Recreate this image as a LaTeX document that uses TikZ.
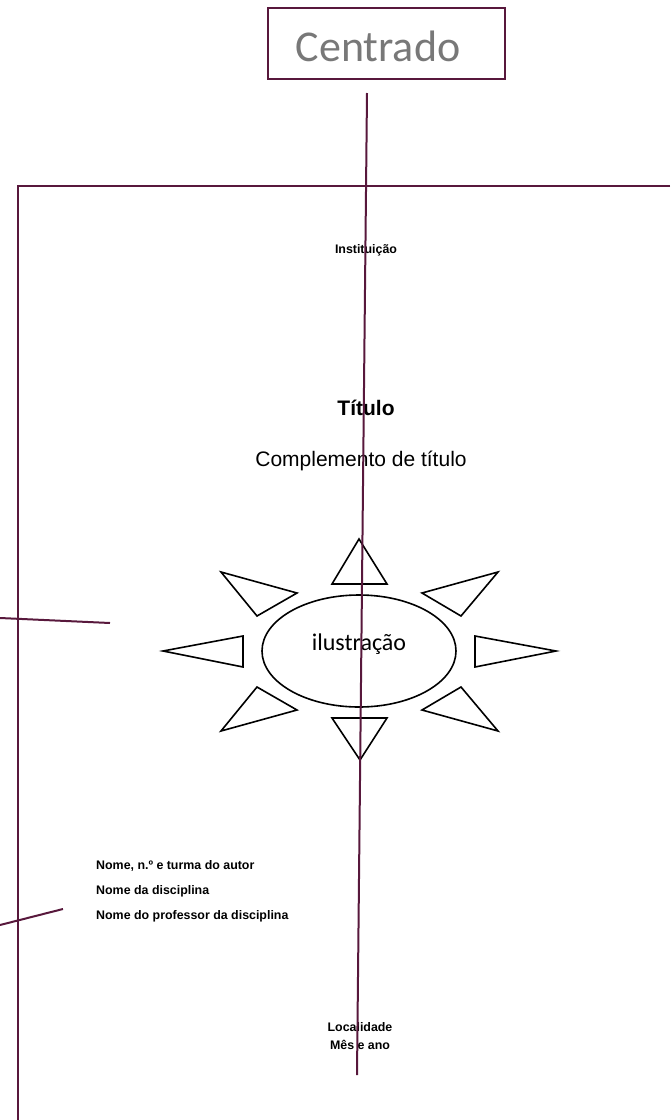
\documentclass[tikz,border=0pt]{standalone}
\usepackage{fontspec}
\setmainfont{Liberation Sans}
\newfontfamily\calibri{Carlito}
\usepackage{tikz}
\usetikzlibrary{shapes.geometric,positioning}
\definecolor{vinho}{RGB}{88,24,60}
\definecolor{cinza}{RGB}{120,120,120}

\begin{document}
\begin{tikzpicture}[x=1pt,y=-1pt,
  guia/.style={draw=vinho,line width=2pt},
  pagina/.style={draw=vinho,line width=1.6pt},
  raio/.style={draw=black,line width=1.6pt,line join=miter},
  capa/.style={font=\fontsize{12.4}{15}\selectfont\bfseries,inner sep=0pt},
  every node/.style={inner sep=0pt}]
  \useasboundingbox (0,0) rectangle (670,1120);

  % caixa do titulo
  \node[draw=vinho,line width=2pt,minimum width=237pt,minimum height=71pt] (centrado) at (386.5,43.5) {};
  \node[text=cinza,font=\calibri\fontsize{44}{48}\selectfont] (centxt) at (378,46) {Centrado};

  % folha
  \draw[pagina] (670,186) -- (18,186) -- (18,1120);

  % textos da capa
  \node[capa] (inst) at (366,250) {Instituição};
  \node[font=\fontsize{21}{25}\selectfont\bfseries] (titulo) at (366,408) {Título};
  \node[font=\fontsize{21}{25}\selectfont] (compl) at (361,461) {Complemento de título};

  % ilustracao
  \node[ellipse,draw,line width=1.6pt,minimum width=194pt,minimum height=112pt] (ilus) at (359,651) {};
  \node[font=\calibri\fontsize{24}{28}\selectfont] (ilustxt) at (359,644) {ilustração};
  \draw[raio] (359,539) -- (332,584) -- (387,584) -- cycle;
  \draw[raio] (360,760) -- (332,718) -- (387,718) -- cycle;
  \draw[raio] (163,651) -- (243,636) -- (243,667) -- cycle;
  \draw[raio] (556,651) -- (475,636) -- (475,667) -- cycle;
  \draw[raio] (221,572) -- (297,593) -- (257,616) -- cycle;
  \draw[raio] (498,572) -- (422,593) -- (461,616) -- cycle;
  \draw[raio] (221,731) -- (297,710) -- (257,687) -- cycle;
  \draw[raio] (498,731) -- (422,710) -- (461,687) -- cycle;

  % autor
  \node[capa,anchor=west] (autor) at (96,866) {Nome, n.º e turma do autor};
  \node[capa,anchor=west] (disc) at (96,891) {Nome da disciplina};
  \node[capa,anchor=west] (prof) at (96,916) {Nome do professor da disciplina};

  \node[capa] (local) at (360,1027) {Localidade};
  \node[capa] (data) at (360,1045) {Mês e ano};

  % linhas guia
  \coordinate (guiatopo) at (367,93);
  \coordinate (guiabase) at (357,1075);
  \coordinate (seta1a) at (0,618);
  \coordinate (seta1b) at (110,623);
  \coordinate (seta2a) at (0,925);
  \coordinate (seta2b) at (63,909);
  \draw[guia] (guiatopo) -- (guiabase);
  \draw[guia] (seta1a) -- (seta1b);
  \draw[guia] (seta2a) -- (seta2b);
\end{tikzpicture}
\end{document}
